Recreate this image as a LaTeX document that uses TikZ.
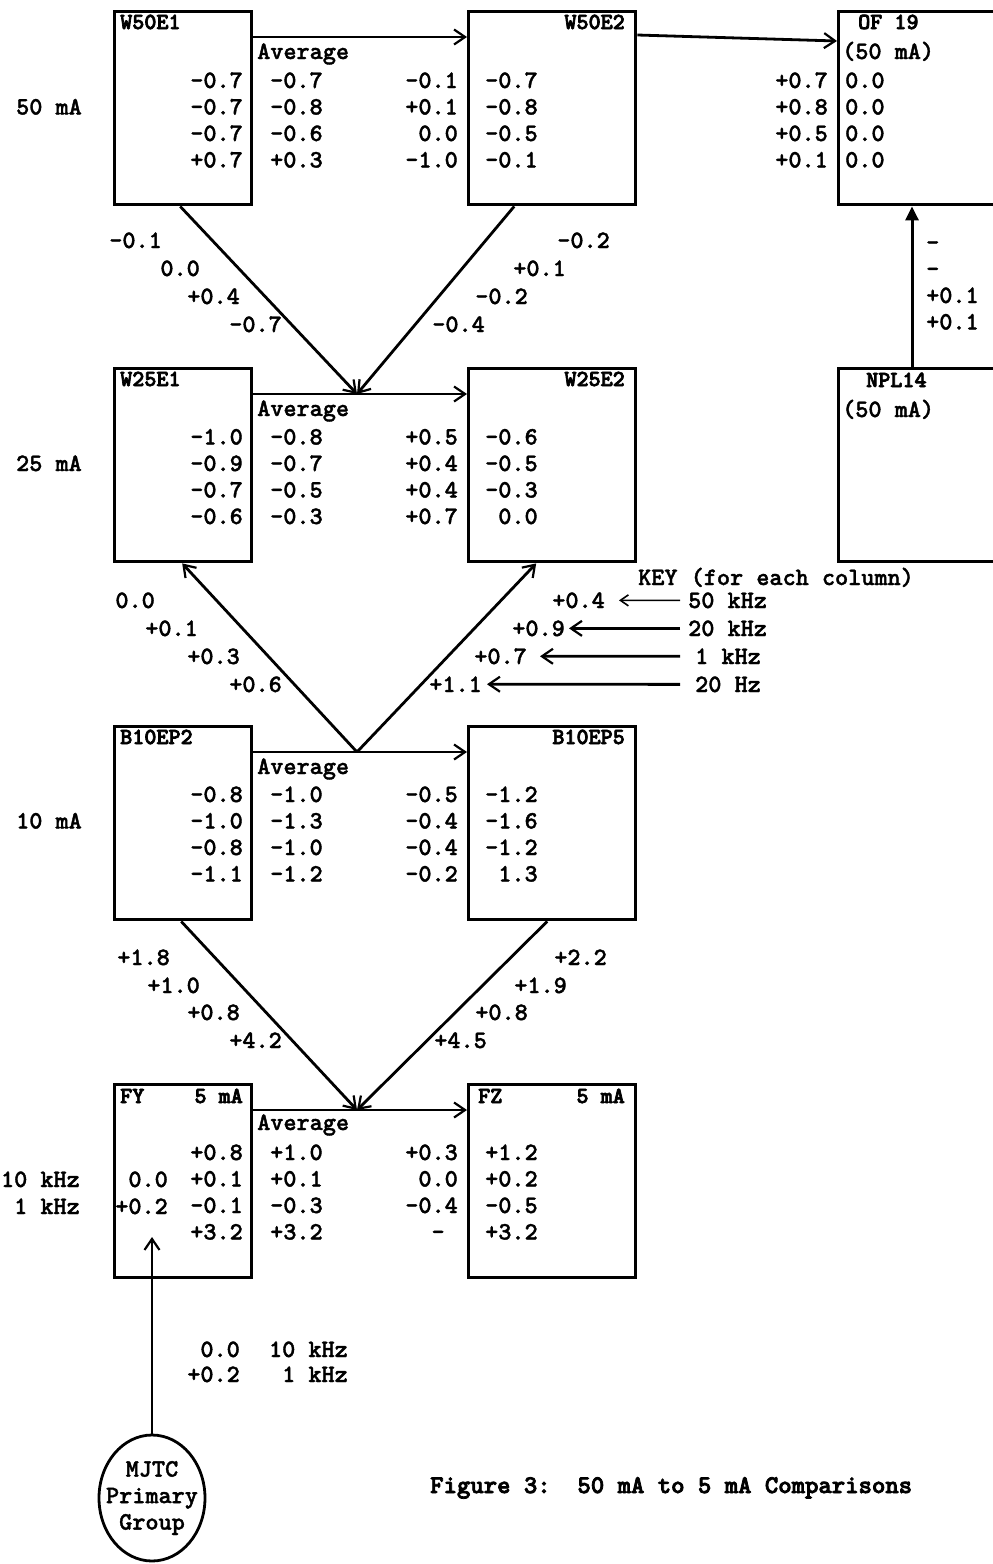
\documentclass[tikz,border=0pt]{standalone}
\usepackage{fontspec}
\usetikzlibrary{arrows.meta,shapes.geometric,calc}
\newfontfamily\twfont{lmmonolt10-bold.otf}[FakeBold=1.5]
\newfontfamily\twbold{lmmonolt10-bold.otf}[FakeBold=3]
\newcommand\tws{\twfont\fontsize{25}{26.5}\selectfont}
\newcommand\twt{\twbold\fontsize{23}{26.5}\selectfont}
\newcommand\twc{\twbold\fontsize{25.5}{26.5}\selectfont}
\newcommand\colR[4]{\foreach \v [count=\i from 0] in {#4}{\node[lbl,anchor=base east] (#1-\i) at (#2,#3+\i*26.5) {\v};}}
\newcommand\colL[4]{\foreach \v [count=\i from 0] in {#4}{\node[lbl,anchor=base west] (#1-\i) at (#2,#3+\i*26.5) {\v};}}
\begin{document}
\begin{tikzpicture}[x=1pt,y=-1pt,
  lbl/.style={inner sep=0pt,font=\tws},
  ttl/.style={inner sep=0pt,font=\twt},
  box/.style={draw,line width=3.4pt,inner sep=0pt,anchor=north west,minimum height=193pt},
  lbox/.style={box,minimum width=137pt},
  rbox/.style={box,minimum width=167pt},
  xbox/.style={box,minimum width=200pt},
  arr/.style={line width=2.8pt,-{Straight Barb[length=11pt,width=15pt,line width=2.2pt]}},
  thinarr/.style={line width=1.6pt,-{Straight Barb[length=8pt,width=11pt,line width=1.6pt]}},
  fillarr/.style={line width=3pt,-{Triangle[length=14pt,width=13pt]}}]
\useasboundingbox[fill=white] (0,0) rectangle (993,1564);

% ---------------- boxes
\node[lbox] (w50e1) at (113,10) {};
\node[rbox] (w50e2) at (467,10) {};
\node[xbox] (of19) at (837,10) {};
\node[lbox] (w25e1) at (113,367) {};
\node[rbox] (w25e2) at (467,367) {};
\node[xbox] (npl14) at (837,367) {};
\node[lbox] (b10ep2) at (113,725) {};
\node[rbox] (b10ep5) at (467,725) {};
\node[lbox] (fy) at (113,1083) {};
\node[rbox] (fz) at (467,1083) {};
\node[draw,ellipse,line width=2.8pt,minimum width=106pt,minimum height=126pt,inner sep=0pt] (mjtc) at (152,1498) {};
\node[inner sep=0pt,align=center,font=\tws] (mjtctext) at (mjtc.center) {MJTC\\Primary\\Group};

% ---------------- connectors
\coordinate (m1) at (357,394);
\coordinate (m2) at (357,752);
\coordinate (m3) at (357,1110);
\coordinate (fyin) at (152,1237);
\draw[arr] ([yshift=-27pt]w50e1.north east) -- ([yshift=-27pt]w50e2.north west);
\draw[arr] ([yshift=-25pt]w50e2.north east) -- ([yshift=-31pt]of19.north west);
\draw[arr] ([yshift=-27pt]w25e1.north east) -- ([yshift=-27pt]w25e2.north west);
\draw[arr] ([yshift=-27pt]b10ep2.north east) -- ([yshift=-27pt]b10ep5.north west);
\draw[arr] ([yshift=-27pt]fy.north east) -- ([yshift=-27pt]fz.north west);
\draw[arr] ([xshift=-3pt]w50e1.south) -- (m1);
\draw[arr] ([xshift=-38pt]w50e2.south) -- (m1);
\draw[arr] (m2) -- ([xshift=-1pt]w25e1.south);
\draw[arr] (m2) -- ([xshift=-16pt]w25e2.south);
\draw[arr] ([xshift=-2pt]b10ep2.south) -- (m3);
\draw[arr] ([xshift=-5pt]b10ep5.south) -- (m3);
\draw[fillarr] ([xshift=75pt]npl14.north west) -- ([xshift=75pt]of19.south west);
\draw[arr] (mjtc.north) -- (fyin);

% ---------------- row 1 (50 mA)
\node[ttl,anchor=base west] (t1) at (120,29) {W50E1};
\node[ttl,anchor=base east] (t2) at (625,29) {W50E2};
\node[ttl,anchor=base west] (t3) at (858,29) {OF 19};
\node[lbl,anchor=base west] (t3b) at (842,59) {(50 mA)};
\node[lbl,anchor=base west] (av1) at (257,59) {Average};
\node[lbl,anchor=base east] (r1) at (82,114.5) {50 mA};
\colR{a1}{243}{88}{-0.7,-0.7,-0.7,+0.7}
\colL{b1}{270}{88}{-0.7,-0.8,-0.6,+0.3}
\colR{c1}{458}{88}{-0.1,+0.1,0.0,-1.0}
\colL{d1}{485}{88}{-0.7,-0.8,-0.5,-0.1}
\colR{e1}{828}{88}{+0.7,+0.8,+0.5,+0.1}
\colL{f1}{845}{88}{0.0,0.0,0.0,0.0}

% diagonal labels 1-2
\node[lbl,anchor=base east] (g1) at (162,248) {-0.1};
\node[lbl,anchor=base east] (g2) at (200,276) {0.0};
\node[lbl,anchor=base east] (g3) at (240,304) {+0.4};
\node[lbl,anchor=base east] (g4) at (282,332) {-0.7};
\node[lbl,anchor=base east] (h1) at (610,248) {-0.2};
\node[lbl,anchor=base east] (h2) at (566,276) {+0.1};
\node[lbl,anchor=base east] (h3) at (528,304) {-0.2};
\node[lbl,anchor=base east] (h4) at (485,332) {-0.4};
\colL{n1}{926}{250}{-,-,+0.1,+0.1}

% ---------------- row 2 (25 mA)
\node[ttl,anchor=base west] (t4) at (120,386) {W25E1};
\node[ttl,anchor=base east] (t5) at (625,386) {W25E2};
\node[ttl,anchor=base west] (t6) at (866,387) {NPL14};
\node[lbl,anchor=base west] (t6b) at (842,417) {(50 mA)};
\node[lbl,anchor=base west] (av2) at (257,416) {Average};
\node[lbl,anchor=base east] (r2) at (82,471) {25 mA};
\colR{a2}{243}{444.5}{-1.0,-0.9,-0.7,-0.6}
\colL{b2}{270}{444.5}{-0.8,-0.7,-0.5,-0.3}
\colR{c2}{458}{444.5}{+0.5,+0.4,+0.4,+0.7}
\colL{d2}{485}{444.5}{-0.6,-0.5,-0.3,\hphantom{-}0.0}

% diagonal labels 2-3 and key
\node[lbl,anchor=base east] (g5) at (155,608) {0.0};
\node[lbl,anchor=base east] (g6) at (198,636) {+0.1};
\node[lbl,anchor=base east] (g7) at (240,664) {+0.3};
\node[lbl,anchor=base east] (g8) at (282,692) {+0.6};
\node[lbl,anchor=base west] (key) at (638,585) {KEY (for each column)};
\node[lbl,anchor=base east] (kv1) at (605,608) {+0.4};
\node[lbl,anchor=base east] (kv2) at (565,636) {+0.9};
\node[lbl,anchor=base east] (kv3) at (527,664) {+0.7};
\node[lbl,anchor=base east] (kv4) at (482,692) {+1.1};
\node[lbl,anchor=base west] (kt1) at (688,608) {50 kHz};
\node[lbl,anchor=base west] (kt2) at (688,636) {20 kHz};
\node[lbl,anchor=base west] (kt3) at (695,664) {1 kHz};
\node[lbl,anchor=base west] (kt4) at (695,692) {20 Hz};
\draw[thinarr] ([xshift=-8pt]kt1.west) -- ([xshift=14pt]kv1.east);
\draw[arr] ([xshift=-8pt]kt2.west) -- ([xshift=4pt]kv2.east);
\draw[arr] ([xshift=-15pt]kt3.west) -- ([xshift=13pt]kv3.east);
\draw[arr] ([xshift=-15pt]kt4.west) -- ([xshift=5pt]kv4.east);

% ---------------- row 3 (10 mA)
\node[ttl,anchor=base west] (t7) at (120,744) {B10EP2};
\node[ttl,anchor=base east] (t8) at (625,744) {B10EP5};
\node[lbl,anchor=base west] (av3) at (257,774) {Average};
\node[lbl,anchor=base east] (r3) at (82,828.5) {10 mA};
\colR{a3}{243}{802}{-0.8,-1.0,-0.8,-1.1}
\colL{b3}{270}{802}{-1.0,-1.3,-1.0,-1.2}
\colR{c3}{458}{802}{-0.5,-0.4,-0.4,-0.2}
\colL{d3}{485}{802}{-1.2,-1.6,-1.2,\hphantom{-}1.3}

% diagonal labels 3-4
\node[lbl,anchor=base east] (g9) at (170,965) {+1.8};
\node[lbl,anchor=base east] (g10) at (200,993) {+1.0};
\node[lbl,anchor=base east] (g11) at (240,1020) {+0.8};
\node[lbl,anchor=base east] (g12) at (282,1048) {+4.2};
\node[lbl,anchor=base east] (h9) at (607,965) {+2.2};
\node[lbl,anchor=base east] (h10) at (567,993) {+1.9};
\node[lbl,anchor=base east] (h11) at (528,1020) {+0.8};
\node[lbl,anchor=base east] (h12) at (487,1048) {+4.5};

% ---------------- row 4 (5 mA)
\node[ttl,anchor=base west] (t9) at (120,1103) {FY};
\node[ttl,anchor=base east] (t9b) at (243,1103) {5 mA};
\node[ttl,anchor=base west] (t10) at (478,1103) {FZ};
\node[ttl,anchor=base east] (t10b) at (625,1103) {5 mA};
\node[lbl,anchor=base west] (av4) at (257,1130) {Average};
\node[lbl,anchor=base east] (r4a) at (80,1187) {10 kHz};
\node[lbl,anchor=base east] (r4b) at (80,1214) {1 kHz};
\colR{a4}{243}{1160}{+0.8,+0.1,-0.1,+3.2}
\node[lbl,anchor=base east] (x1) at (168,1187) {0.0};
\node[lbl,anchor=base east] (x2) at (168,1214) {+0.2};
\colL{b4}{270}{1160}{+1.0,+0.1,-0.3,+3.2}
\colR{c4}{458}{1160}{+0.3,0.0,-0.4,-\hphantom{0}}
\colL{d4}{485}{1160}{+1.2,+0.2,-0.5,+3.2}

% ---------------- bottom
\node[lbl,anchor=base east] (y1) at (240,1357) {0.0};
\node[lbl,anchor=base east] (y2) at (348,1357) {10 kHz};
\node[lbl,anchor=base east] (y3) at (240,1382) {+0.2};
\node[lbl,anchor=base east] (y4) at (348,1382) {1 kHz};
\node[inner sep=0pt,font=\twc,anchor=base west] (cap) at (430,1493) {Figure 3:\ \ 50 mA to 5 mA Comparisons};
\end{tikzpicture}
\end{document}
